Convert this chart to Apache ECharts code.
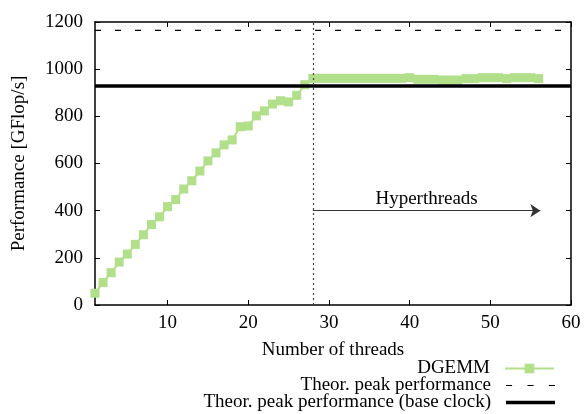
<!DOCTYPE html>
<html>
<head>
<meta charset="utf-8">
<script src="https://cdn.jsdelivr.net/npm/echarts@6/dist/echarts.min.js"></script>
<style>
html,body{margin:0;padding:0;background:#fff;}
#chart{width:584px;height:414px;}
</style>
</head>
<body>
<div id="chart"></div>
<script>
// ---- data ----
const threads = [1,2,3,4,5,6,7,8,9,10,11,12,13,14,15,16,17,18,19,20,21,22,23,24,25,26,27,28,
  29,30,31,32,33,34,35,36,37,38,39,40,41,42,43,44,45,46,47,48,49,50,51,52,53,54,55,56];
const dgemm = [50,95,137,182,216,257,298,341,374,417,447,492,527,568,611,645,679,700,756,759,802,823,852,866,861,889,934,961,
  961,961,961,961,961,961,961,961,961,961,961,964,957,957,957,954,954,954,960,960,964,964,964,960,964,964,964,960];
const peakX = [1, 60];
const peakTheor = [1164.8, 1164.8];
const peakBase = [929, 929];
const xTicks = [10, 20, 30, 40, 50, 60];
const htStart = 28;      // hyperthreads start
const htArrowEnd = 56.2; // arrow end
const htArrowY = 400;
const seriesNames = ['DGEMM', 'Theor. peak performance', 'Theor. peak performance (base clock)'];

const FONT = 'Liberation Serif';
const green = '#b2df8a';

function pairs(xs, ys){ return xs.map((x,i)=>[x, ys[i]]); }

const chart = echarts.init(document.getElementById('chart'), null, {renderer:'canvas'});

const axisLineStyle = {color:'#000', width:1.5};
const baseX = {
  type:'value', min:1, max:60,
  axisLine:{show:true, onZero:false, lineStyle:axisLineStyle},
  splitLine:{show:false}
};
const baseY = {
  type:'value', min:0, max:1200, interval:200,
  axisLine:{show:true, onZero:false, lineStyle:axisLineStyle},
  splitLine:{show:false}
};

const legendCommon = {
  orient:'vertical', align:'right', right:29, padding:0,
  itemWidth:49, itemHeight:12, selectedMode:false,
  textStyle:{fontFamily:FONT, fontSize:19, color:'#000', padding:[0,10,0,0]}
};

chart.setOption({
  animation:false,
  backgroundColor:'#fff',
  grid:{left:95, right:13, top:22, bottom:109, containLabel:false},
  xAxis:[
    Object.assign({}, baseX, {
      position:'bottom',
      name:'Number of threads', nameLocation:'middle', nameGap:36,
      nameTextStyle:{fontFamily:FONT, fontSize:19, color:'#000'},
      axisTick:{show:true, inside:true, length:5, customValues:xTicks, lineStyle:{color:'#000', width:1}},
      axisLabel:{show:true, customValues:xTicks, margin:9, fontFamily:FONT, fontSize:19, color:'#000',
                 formatter:(v)=>String(v)}
    }),
    Object.assign({}, baseX, {
      position:'top',
      axisTick:{show:true, inside:true, length:5, customValues:xTicks, lineStyle:{color:'#000', width:1}},
      axisLabel:{show:false}
    })
  ],
  yAxis:[
    Object.assign({}, baseY, {
      position:'left',
      name:'Performance [GFlop/s]', nameLocation:'middle', nameGap:66, nameRotate:90,
      nameTextStyle:{fontFamily:FONT, fontSize:19, color:'#000'},
      axisTick:{show:true, inside:true, length:5, lineStyle:{color:'#000', width:1}},
      axisLabel:{show:true, margin:12, fontFamily:FONT, fontSize:19, color:'#000',
                 formatter:(v)=>String(v)}
    }),
    Object.assign({}, baseY, {
      position:'right',
      axisTick:{show:true, inside:true, length:5, lineStyle:{color:'#000', width:1}},
      axisLabel:{show:false}
    })
  ],
  legend:[
    Object.assign({}, legendCommon, {top:359, data:[seriesNames[0]]}),
    Object.assign({}, legendCommon, {top:376, itemHeight:1.5,
      data:[{name:seriesNames[1], icon:'path://M0,0h6v1h-6zM21,0h6v1h-6zM42,0h6v1h-6z'}]}),
    Object.assign({}, legendCommon, {top:393, itemHeight:3.5,
      data:[{name:seriesNames[2], icon:'rect'}]})
  ],
  series:[
    {
      name:seriesNames[0], type:'line',
      data:pairs(threads, dgemm),
      symbol:'rect', symbolSize:9, showSymbol:true,
      itemStyle:{color:green},
      lineStyle:{color:green, width:2},
      z:2,
      markLine:{
        silent:true, animation:false,
        symbol:['none','none'],
        label:{show:false},
        data:[
          {xAxis:htStart, lineStyle:{color:'#444', type:[2,3], width:1.2}, label:{show:false}},
          [
            {coord:[htStart, htArrowY], symbol:'none',
             lineStyle:{color:'#333', type:'solid', width:1.2},
             label:{show:true, formatter:'Hyperthreads', position:'middle', distance:2,
                    fontFamily:FONT, fontSize:19, color:'#000'}},
            {coord:[htArrowEnd, htArrowY], symbol:'arrow', symbolSize:10}
          ]
        ]
      }
    },
    {
      name:seriesNames[1], type:'line',
      data:pairs(peakX, peakTheor),
      symbol:'none', showSymbol:false,
      itemStyle:{color:'#000'},
      lineStyle:{color:'#000', width:1.2, type:[6,14]},
      z:3
    },
    {
      name:seriesNames[2], type:'line',
      data:pairs(peakX, peakBase),
      symbol:'none', showSymbol:false,
      itemStyle:{color:'#000'},
      lineStyle:{color:'#000', width:3.5},
      z:3
    }
  ]
});
</script>
</body>
</html>
